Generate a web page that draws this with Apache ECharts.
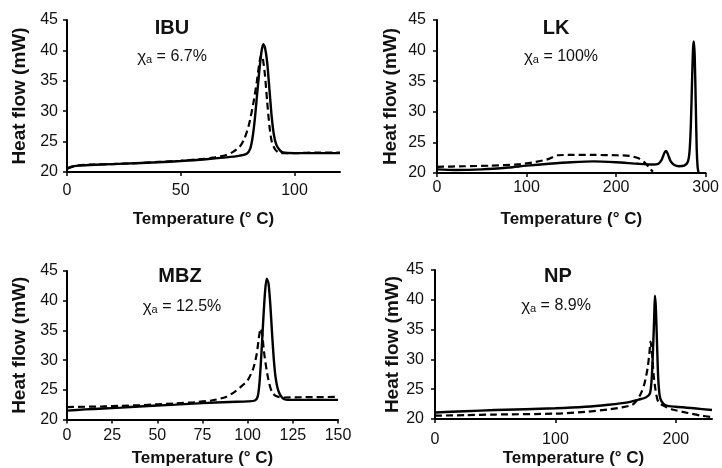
<!DOCTYPE html>
<html>
<head>
<meta charset="utf-8">
<script src="https://cdn.jsdelivr.net/npm/echarts@6/dist/echarts.min.js"></script>
<style>
html,body{margin:0;padding:0;background:#fff;}
#chart{width:722px;height:468px;}
</style>
</head>
<body>
<div id="chart"></div>
<script>
// ---- Data (temperature °C, heat flow mW) ----
const panelNames = ['IBU', 'LK', 'MBZ', 'NP'];
const chiLabels = ['6.7%', '100%', '12.5%', '8.9%'];
const yTicks = [20, 25, 30, 35, 40, 45];
const ibuXTicks = [0, 50, 100];
const lkXTicks = [0, 100, 200, 300];
const mbzXTicks = [0, 25, 50, 75, 100, 125, 150];
const npXTicks = [0, 100, 200];

const ibuSolid = [[0,20.5],[2,20.9],[5,21.05],[10,21.15],[20,21.3],[30,21.45],[40,21.6],[50,21.8],[60,22.05],[70,22.4],[76,22.7],[79,23.0],[80.5,23.8],[81.5,25.5],[82.5,28.5],[83.5,32.5],[84.5,36.5],[85.5,39.8],[86.3,41],[87,40.5],[88,38],[89,33.5],[90,29],[91,26],[92,24.5],[93.5,23.6],[95,23.2],[100,23.1],[110,23.1],[120,23.1]];
const ibuDashed = [[0,20.6],[5,21.1],[10,21.2],[20,21.3],[30,21.45],[40,21.65],[50,21.85],[60,22.15],[65,22.4],[70,22.8],[73,23.3],[76,24.2],[78,25.5],[80,27.8],[82,31.5],[83.5,35],[84.5,37.8],[85.3,39.2],[86,38.8],[87,36],[88,31.5],[89,27.5],[90,25],[91.5,23.7],[93,23.2],[95,23.1],[100,23.1],[110,23.2],[120,23.2]];

const lkSolid = [[0,20.6],[20,20.5],[50,20.6],[80,20.9],[100,21.2],[125,21.5],[150,21.75],[175,21.9],[200,21.75],[225,21.5],[240,21.4],[247,21.5],[251,22.2],[254,23.3],[256,23.6],[258,23],[261,21.9],[265,21.3],[270,21.1],[276,21.2],[280,21.8],[282,23.5],[283.5,28],[285,36],[286,40.5],[286.8,41.5],[287.8,39],[289,31],[290,24],[291,21],[292,20.1]];
const lkDashed = [[0,21.0],[30,21.1],[60,21.2],[90,21.4],[110,21.8],[125,22.3],[135,22.9],[150,22.95],[175,22.95],[200,22.9],[215,22.8],[225,22.4],[232,21.7],[237,20.9],[241,20.2]];

const mbzSolid = [[0,21.5],[10,21.7],[20,21.85],[30,22.0],[40,22.2],[50,22.35],[60,22.5],[75,22.75],[90,22.95],[100,23.05],[104,23.2],[105.5,23.8],[106.5,26],[107.5,30.5],[108.5,36],[109.5,41],[110.5,43.7],[111.5,43],[112.5,39.5],[113.5,34.5],[114.5,30],[115.5,27],[117,24.8],[119,23.7],[121,23.35],[130,23.3],[140,23.3],[150,23.3]];
const mbzDashed = [[0,22.1],[10,22.15],[20,22.2],[30,22.3],[40,22.4],[50,22.55],[60,22.7],[70,22.9],[80,23.2],[88,23.8],[93,24.7],[97,25.7],[100,26.6],[103,28.5],[105,31],[106.3,34],[107.2,35.3],[108,34.5],[109,31.5],[110.5,28.3],[112,26],[113.5,24.6],[116,23.9],[120,23.7],[130,23.75],[150,23.8]];

const npSolid = [[0,21.1],[25,21.3],[50,21.5],[100,21.8],[125,22.05],[144,22.4],[160,22.8],[169,23.25],[175,23.6],[178.5,24.3],[180,27],[181,31.5],[182,37],[182.6,40.7],[183.3,39],[184.3,33],[185.3,27],[186.5,24],[188,23],[191.5,22.3],[200,22.05],[215,21.8],[230,21.5]];
const npDashed = [[0,20.55],[25,20.65],[50,20.75],[100,20.9],[125,21.2],[144,21.6],[155,21.95],[164,22.4],[168,23.25],[171,24.3],[174,26],[176.5,28.5],[178,31],[179,33],[180,31.5],[181.5,27.5],[183,25],[184.6,23.3],[186,22.7],[190,22.2],[197,21.6],[210,21.0],[220,20.6],[230,20.3]];

// ---- Layout ----
const grids = [
  {left: 67, top: 20, width: 273, height: 152},
  {left: 437, top: 20, width: 271, height: 153},
  {left: 67, top: 271, width: 271, height: 149},
  {left: 435, top: 270, width: 277, height: 153}
];
const xRanges = [[0,120],[0,300],[0,150],[0,230]];
const xTickSets = [ibuXTicks, lkXTicks, mbzXTicks, npXTicks];
const xNameGaps = [38.5, 38, 30.5, 31];
const yNameGaps = [37.5, 36.5, 37.5, 31.5];
const xLabelMargins = [11, 7, 8, 13];
const yLabelMargins = [9, 11, 9, 11];
const solids = [ibuSolid, lkSolid, mbzSolid, npSolid];
const dashes = [ibuDashed, lkDashed, mbzDashed, npDashed];
const titlePos = [[172,28],[556,28],[180,276],[558,276]];
const chiPos = [[172,57],[561,57],[182,307],[556,306]];

const FONT = 'Liberation Sans, Arial, sans-serif';
const axisLine = {show: true, lineStyle: {color: '#000', width: 2}};

const option = {
  animation: false,
  backgroundColor: '#fff',
  grid: grids.map(g => Object.assign({containLabel: false}, g)),
  xAxis: grids.map((g, i) => ({
    type: 'value', gridIndex: i, min: xRanges[i][0], max: xRanges[i][1],
    name: 'Temperature (° C)', nameLocation: 'middle', nameGap: xNameGaps[i],
    nameTextStyle: {fontFamily: FONT, fontSize: 17, fontWeight: 'bold', color: '#111'},
    axisLine: axisLine,
    axisTick: {show: true, length: 4, lineStyle: {color: '#000', width: 1.5}, customValues: xTickSets[i]},
    axisLabel: {customValues: xTickSets[i], fontFamily: FONT, fontSize: 16, color: '#111', margin: xLabelMargins[i]},
    splitLine: {show: false}
  })),
  yAxis: grids.map((g, i) => ({
    type: 'value', gridIndex: i, min: 20, max: 45, interval: 5,
    name: 'Heat flow (mW)', nameLocation: 'middle', nameGap: yNameGaps[i],
    nameTextStyle: {fontFamily: FONT, fontSize: 19, fontWeight: 'bold', color: '#111'},
    axisLine: axisLine,
    axisTick: {show: true, length: 4, lineStyle: {color: '#000', width: 1.5}, customValues: yTicks},
    axisLabel: {customValues: yTicks, fontFamily: FONT, fontSize: 16, color: '#111', margin: yLabelMargins[i]},
    splitLine: {show: false}
  })),
  series: [].concat(...grids.map((g, i) => [
    {type: 'line', xAxisIndex: i, yAxisIndex: i, data: dashes[i], showSymbol: false, smooth: 0.25,
     lineStyle: {color: '#000', width: 2.2, type: [7, 4]}},
    {type: 'line', xAxisIndex: i, yAxisIndex: i, data: solids[i], showSymbol: false, smooth: 0.25,
     lineStyle: {color: '#000', width: 2.4, type: 'solid'}}
  ])),
  graphic: [].concat(...panelNames.map((n, i) => [
    {type: 'text', x: titlePos[i][0], y: titlePos[i][1],
     style: {text: n, align: 'center', verticalAlign: 'middle', font: 'bold 20px ' + FONT, fill: '#111'}},
    {type: 'text', x: chiPos[i][0], y: chiPos[i][1],
     style: {text: '{c|χ}{s|a}{n| = ' + chiLabels[i] + '}', align: 'center', verticalAlign: 'middle',
       rich: {
         c: {fontFamily: FONT, fontSize: 17, fill: '#111', verticalAlign: 'middle'},
         s: {fontFamily: FONT, fontSize: 11, fill: '#111', verticalAlign: 'bottom', padding: [6,0,0,0]},
         n: {fontFamily: FONT, fontSize: 16, fill: '#111', verticalAlign: 'middle'}
       }}}
  ]))
};

const chart = echarts.init(document.getElementById('chart'), null, {renderer: 'canvas'});
chart.setOption(option);
</script>
</body>
</html>
